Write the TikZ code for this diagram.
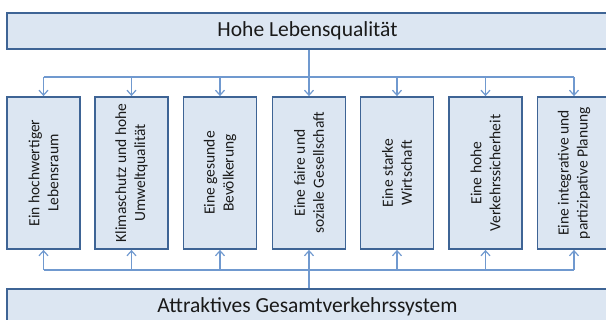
\documentclass[tikz,border=0pt]{standalone}
\usepackage{fontspec}
\setmainfont{Carlito}
\usetikzlibrary{arrows.meta}
\definecolor{boxfill}{HTML}{DCE6F2}
\definecolor{boxline}{HTML}{3E6495}
\definecolor{connline}{HTML}{7099CF}
\definecolor{txtcol}{HTML}{1A1A1A}
\begin{document}
\begin{tikzpicture}[x=1pt,y=-1pt,
  wide/.style={draw=boxline, fill=boxfill, line width=1.8pt, minimum width=601pt, minimum height=36pt, inner sep=0pt, text=txtcol, font=\fontsize{21.5}{26}\selectfont},
  pillar/.style={draw=boxline, fill=boxfill, line width=1.8pt, minimum width=73pt, minimum height=152pt, inner sep=0pt},
  ptxt/.style={rotate=90, align=center, text=txtcol, font=\fontsize{15.5}{19}\selectfont, inner sep=0pt},
  conn/.style={draw=connline, line width=1.2pt},
  arr/.style={conn, -{Straight Barb[length=5pt,width=9pt]}}
]
\useasboundingbox (0,0) rectangle (606,320);
\node[wide] (top) at (307.5,31) {Hohe Lebensqualität};
\node[wide] (bot) at (307.5,307) {Attraktives Gesamtverkehrssystem};
\node[pillar, label={[ptxt]center:Ein hochwertiger\\Lebensraum}] (b1) at (43.5,173) {};
\node[pillar, label={[ptxt]center:Klimaschutz und hohe\\Umweltqualität}] (b2) at (131.5,173) {};
\node[pillar, label={[ptxt]center:Eine gesunde\\Bevölkerung}] (b3) at (220,173) {};
\node[pillar, label={[ptxt]center:Eine faire und\\soziale Gesellschaft}] (b4) at (309,173) {};
\node[pillar, label={[ptxt]center:Eine starke\\Wirtschaft}] (b5) at (397,173) {};
\node[pillar, label={[ptxt]center:Eine hohe\\Verkehrssicherheit}] (b6) at (485.5,173) {};
\node[pillar, label={[ptxt]center:Eine integrative und\\partizipative Planung}] (b7) at (574,173) {};
\coordinate (tj) at (309,77);
\coordinate (bj) at (309,270);
% top distribution
\draw[conn] (b1.north |- tj) -- (b7.north |- tj);
\draw[conn] (top.south -| b4.north) -- (b4.north |- tj);
\foreach \i in {1,...,7} {
  \draw[arr] (b\i.north |- tj) -- (b\i.north);
}
% bottom collection
\draw[conn] (b1.south |- bj) -- (b7.south |- bj);
\draw[conn] (bot.north -| b4.south) -- (b4.south |- bj);
\foreach \i in {1,...,7} {
  \draw[arr] (b\i.south |- bj) -- (b\i.south);
}
\end{tikzpicture}
\end{document}
